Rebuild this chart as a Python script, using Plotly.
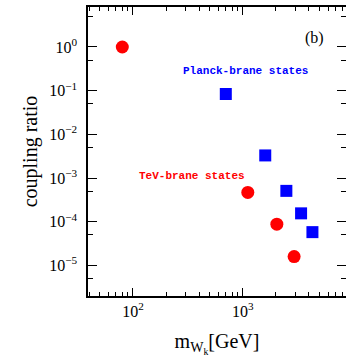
import plotly.graph_objects as go
import numpy as np

# data
tev_mass = [80, 1110, 2040, 2930]
tev_ratio = [1.0, 4.7e-4, 8.8e-5, 1.6e-5]
planck_mass = [700, 1600, 2490, 3390, 4300]
planck_ratio = [0.084, 3.3e-3, 5.1e-4, 1.56e-4, 5.8e-5]

ytick_vals = [1, 1e-1, 1e-2, 1e-3, 1e-4, 1e-5]
ytick_text = ["10<sup>0</sup>", "10<sup>\u22121</sup>", "10<sup>\u22122</sup>",
              "10<sup>\u22123</sup>", "10<sup>\u22124</sup>", "10<sup>\u22125</sup>"]
xtick_vals = [100, 1000]
xtick_text = ["10<sup>2</sup>", "10<sup>3</sup>"]

W, H = 346, 357
L, R, T, B = 88, 0, 7, 61

serif = "Liberation Serif"
YRANGE = [-5.698, 0.915]

fig = go.Figure()
fig.add_trace(go.Scatter(x=tev_mass, y=tev_ratio, mode="markers",
                         marker=dict(symbol="circle", size=13, color="#ff0000", line=dict(width=0)),
                         showlegend=False))
fig.add_trace(go.Scatter(x=planck_mass, y=planck_ratio, mode="markers",
                         marker=dict(symbol="square", size=12, color="#0000ff", line=dict(width=0)),
                         showlegend=False))
# helper trace so the right-hand tick axis is drawn
fig.add_trace(go.Scatter(x=[None], y=[None], yaxis="y2", mode="markers", showlegend=False,
                         hoverinfo="skip"))

x_minor = [v * 10 ** e for e in (1, 2, 3) for v in range(2, 10)]
y_minor = [5 * 10.0 ** e for e in range(-6, 1)]

fig.update_layout(
    width=W, height=H,
    margin=dict(l=L, r=R, t=T, b=B),
    paper_bgcolor="white", plot_bgcolor="white",
    xaxis=dict(type="log", range=[np.log10(39), 3.939],
               tickmode="array", tickvals=xtick_vals, ticktext=xtick_text,
               ticks="inside", ticklen=8, tickwidth=1.2, tickcolor="black",
               showline=True, linewidth=1.5, linecolor="black", mirror="ticks",
               showgrid=False, zeroline=False,
               tickfont=dict(family=serif, size=16, color="black"),
               minor=dict(tickmode="array", tickvals=x_minor, ticks="inside",
                          ticklen=4, tickwidth=1, tickcolor="black", showgrid=False),
               title=dict(text="m<sub>W<sub>k</sub></sub>[GeV]", font=dict(family=serif, size=20, color="black"),
                          standoff=16)),
    yaxis=dict(type="log", range=YRANGE,
               tickmode="array", tickvals=ytick_vals, ticktext=ytick_text,
               ticks="inside", ticklen=9, tickwidth=1.2, tickcolor="black",
               showline=True, linewidth=1.5, linecolor="black", mirror=False,
               showgrid=False, zeroline=False, ticklabelstandoff=6,
               tickfont=dict(family=serif, size=16, color="black"),
               minor=dict(tickmode="array", tickvals=y_minor, ticks="inside",
                          ticklen=5, tickwidth=1, tickcolor="black", showgrid=False),
               title=dict(text="coupling ratio", font=dict(family=serif, size=20, color="black"),
                          standoff=6)),
    yaxis2=dict(type="log", range=YRANGE, overlaying="y", side="right",
                tickmode="array", tickvals=ytick_vals, showticklabels=False,
                ticks="inside", ticklen=9, tickwidth=1.2, tickcolor="black",
                showline=False, showgrid=False, zeroline=False,
                minor=dict(tickmode="array", tickvals=y_minor, ticks="inside",
                           ticklen=5, tickwidth=1, tickcolor="black", showgrid=False)),
    annotations=[
        dict(x=np.log10(4450), y=np.log10(1.6), xref="x", yref="y", text="(b)", showarrow=False,
             font=dict(family=serif, size=16, color="black")),
        dict(x=np.log10(1065), y=np.log10(0.28), xref="x", yref="y", text="<b>Planck-brane states</b>",
             showarrow=False, font=dict(family="Liberation Mono", size=11, color="#0000ff")),
        dict(x=np.log10(344), y=np.log10(1.13e-3), xref="x", yref="y", text="<b>TeV-brane states</b>",
             showarrow=False, font=dict(family="Liberation Mono", size=11, color="#ff0000")),
    ],
)

fig.write_html("out.html")
